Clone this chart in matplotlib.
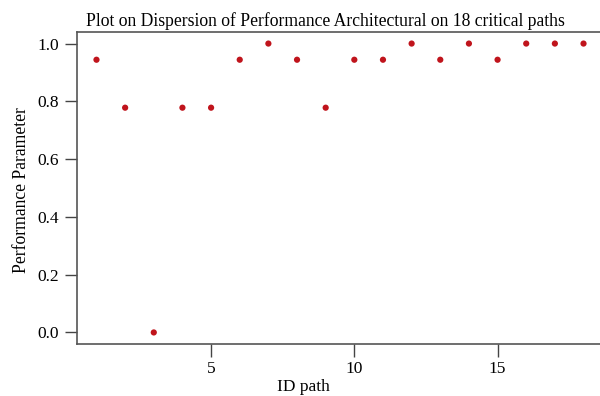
import matplotlib
matplotlib.use("Agg")
from matplotlib import pyplot as plt

path_ids = list(range(1, 19))
performance = [0.944, 0.778, 0.0, 0.778, 0.778, 0.944, 1.0, 0.944, 0.778,
               0.944, 0.944, 1.0, 0.944, 1.0, 0.944, 1.0, 1.0, 1.0]
x_ticks = [5, 10, 15]
y_ticks = [0.0, 0.2, 0.4, 0.6, 0.8, 1.0]

plt.rcParams['font.family'] = ['Liberation Serif', 'DejaVu Serif']

fig = plt.figure(figsize=(6, 3.96), dpi=100)
# axes run a little past the right edge, the original picture is cropped there
ax = fig.add_axes([77/600, 52/396, 526/600, 312/396])
ax.scatter(path_ids, performance, s=20, color='#c0141c', edgecolors='none', zorder=3)

# R style 4% padding
ax.set_xlim(0.32, 18.68)
ax.set_ylim(-0.04, 1.04)
ax.set_xticks(x_ticks)
ax.set_yticks(y_ticks)
ax.set_yticklabels(['%.1f' % v for v in y_ticks])
ax.tick_params(direction='out', length=9, width=1, colors='#444444', labelcolor='black', labelsize=12.5)
ax.tick_params(axis='y', pad=4)
ax.tick_params(axis='x', pad=3)
for s in ax.spines.values():
    s.set_color('#555555')
    s.set_linewidth(1.2)

fig.text(303/600, 1 - 391/396, 'ID path', fontsize=12.5, ha='center', va='baseline')
fig.text(21/600, 1 - 190/396, 'Performance Parameter', rotation=90, fontsize=12.7,
         ha='center', va='center')
fig.text(325/600, 1 - 26/396, 'Plot on Dispersion of Performance Architectural on 18 critical paths',
         fontsize=12.7, ha='center', va='baseline')

fig.savefig('out.png', dpi=100)
